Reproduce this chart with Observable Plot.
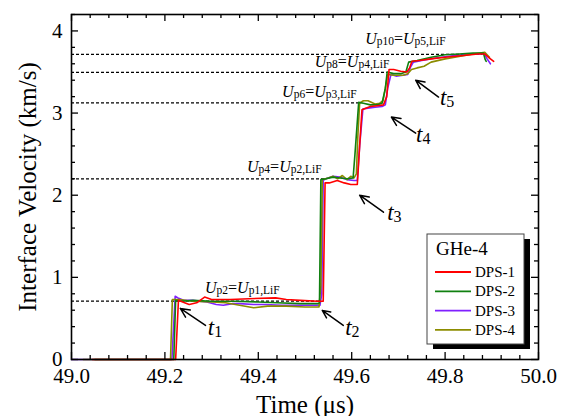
<!DOCTYPE html>
<html>
<head>
<meta charset="utf-8">
<script src="https://cdn.jsdelivr.net/npm/d3@7"></script>
<script src="https://cdn.jsdelivr.net/npm/@observablehq/plot@0.6"></script>
<style>
  html, body { margin: 0; padding: 0; background: #fff; }
  #chart svg, #chart svg text { font-family: "Liberation Serif", "Times New Roman", serif !important; }
  #chart svg { overflow: visible; }
</style>
</head>
<body>
<div id="chart"></div>
<script>
// ---- Data ----
const seriesNames = ["DPS-1", "DPS-2", "DPS-3", "DPS-4"];
const seriesColors = ["#ff0000", "#108010", "#8020ff", "#8c8c00"];

const dps1_t = [49.045,49.223,49.229,49.238,49.252,49.268,49.285,49.30,49.34,49.38,49.437,49.46,49.49,49.527,49.539,49.543,49.552,49.569,49.584,49.598,49.612,49.617,49.622,49.63,49.64,49.655,49.668,49.675,49.680,49.69,49.705,49.718,49.724,49.729,49.745,49.77,49.80,49.84,49.87,49.885,49.895,49.904];
const dps1_v = [0,0,0.72,0.70,0.67,0.69,0.76,0.73,0.73,0.74,0.75,0.73,0.72,0.71,0.71,2.15,2.15,2.18,2.15,2.13,2.13,2.6,3.04,3.06,3.08,3.09,3.10,3.2,3.53,3.53,3.51,3.50,3.55,3.63,3.64,3.66,3.68,3.70,3.72,3.72,3.67,3.63];

const dps2_t = [49.05,49.219,49.223,49.235,49.26,49.30,49.35,49.40,49.44,49.49,49.528,49.531,49.534,49.545,49.56,49.575,49.59,49.603,49.607,49.615,49.625,49.64,49.655,49.665,49.672,49.676,49.69,49.705,49.716,49.722,49.74,49.77,49.80,49.83,49.86,49.882,49.886,49.888];
const dps2_v = [0,0,0.72,0.71,0.72,0.71,0.71,0.70,0.69,0.68,0.68,0.69,2.19,2.20,2.22,2.21,2.20,2.21,2.5,3.13,3.12,3.10,3.10,3.12,3.3,3.50,3.48,3.48,3.50,3.62,3.64,3.68,3.71,3.72,3.73,3.73,3.65,3.63];

const dps3_t = [49.0,49.215,49.222,49.228,49.24,49.26,49.29,49.31,49.325,49.345,49.36,49.39,49.415,49.45,49.49,49.532,49.536,49.539,49.545,49.56,49.575,49.59,49.605,49.612,49.617,49.624,49.635,49.65,49.665,49.672,49.677,49.684,49.695,49.71,49.72,49.726,49.732,49.75,49.78,49.82,49.86,49.884,49.89,49.897];
const dps3_v = [0,0,0.77,0.75,0.72,0.72,0.70,0.67,0.66,0.68,0.68,0.67,0.67,0.66,0.66,0.66,0.8,2.18,2.20,2.23,2.22,2.19,2.18,2.18,2.6,3.05,3.06,3.07,3.08,3.10,3.3,3.47,3.45,3.46,3.47,3.56,3.62,3.64,3.67,3.70,3.72,3.72,3.66,3.60];

const dps4_t = [49.025,49.212,49.216,49.23,49.26,49.30,49.33,49.36,49.39,49.42,49.46,49.50,49.53,49.534,49.537,49.55,49.56,49.57,49.58,49.59,49.598,49.605,49.61,49.613,49.617,49.625,49.635,49.65,49.66,49.667,49.672,49.677,49.69,49.71,49.72,49.728,49.74,49.755,49.77,49.80,49.83,49.86,49.885,49.89,49.895];
const dps4_v = [0,0,0.73,0.73,0.71,0.70,0.69,0.66,0.63,0.65,0.65,0.64,0.64,0.9,2.19,2.21,2.23,2.20,2.24,2.19,2.23,2.21,2.26,2.7,3.12,3.15,3.15,3.11,3.12,3.15,3.3,3.47,3.46,3.46,3.48,3.53,3.55,3.57,3.62,3.66,3.69,3.72,3.74,3.71,3.68];

// Reference (dashed) levels: value and end time
const refLevels = [0.71, 2.20, 3.125, 3.495, 3.715];
const refEnds   = [49.535, 49.545, 49.62, 49.68, 49.88];
// Level labels: main symbol subscripts
const refSubA = ["p2", "p4", "p6", "p8", "p10"];
const refSubB = ["p1,LiF", "p2,LiF", "p3,LiF", "p4,LiF", "p5,LiF"];
const refLabelX = [49.287, 49.377, 49.452, 49.522, 49.630];
const refLabelY = [0.805, 2.28, 3.195, 3.549, 3.83];

// Time markers t1..t5: label position, arrow tail and head
const tSubs   = ["1", "2", "3", "4", "5"];
const tLabelX = [49.293, 49.587, 49.677, 49.739, 49.790];
const tLabelY = [0.293, 0.293, 1.695, 2.646, 3.098];
const tArrowX1 = [49.287, 49.582, 49.668, 49.737, 49.786];
const tArrowY1 = [0.415, 0.415, 1.793, 2.756, 3.195];
const tArrowX2 = [49.233, 49.537, 49.617, 49.685, 49.737];
const tArrowY2 = [0.622, 0.598, 2.00, 2.951, 3.40];

const xTicks = [49.0, 49.2, 49.4, 49.6, 49.8, 50.0];
const yTicks = [0, 1, 2, 3, 4];
const xMinor = d3.range(0, 26).map(i => 49 + i * 0.04).filter(v => !xTicks.some(t => Math.abs(t - v) < 1e-9));
const yMinor = d3.range(0, 22).map(i => i * 0.2).filter(v => !yTicks.some(t => Math.abs(t - v) < 1e-9));

// ---- Build tables ----
const raw = [[dps1_t, dps1_v], [dps2_t, dps2_v], [dps3_t, dps3_v], [dps4_t, dps4_v]];
const lines = raw.map(([ts, vs], i) => ts.map((t, j) => ({t, v: vs[j], s: seriesNames[i]})));
const drawOrder = [2, 3, 1, 0];
const refs = refLevels.map((v, i) => ({v, end: refEnds[i]}));
const arrows = tSubs.map((s, i) => ({x1: tArrowX1[i], y1: tArrowY1[i], x2: tArrowX2[i], y2: tArrowY2[i]}));

const X0 = 49, X1 = 50, Y0 = 0, Y1 = 4.2;
const W = 567, H = 416, mL = 71, mR = 29, mT = 14, mB = 57;
const pxX = (X1 - X0) / (W - mL - mR);
const pxY = (Y1 - Y0) / (H - mT - mB);
const FONT = "Liberation Serif";

const marks = [];
marks.push(Plot.ruleY(refs, {y: "v", x1: X0, x2: "end", stroke: "black", strokeWidth: 1.2, strokeDasharray: "3,2"}));
for (const i of drawOrder) {
  marks.push(Plot.line(lines[i], {x: "t", y: "v", stroke: seriesColors[i], strokeWidth: 1.6, strokeLinejoin: "round"}));
}
marks.push(Plot.arrow(arrows, {x1: "x1", y1: "y1", x2: "x2", y2: "y2", stroke: "black", strokeWidth: 1.5, headLength: 11, headAngle: 50}));
const majX = 7 * pxY, minX = 4 * pxY, majY = 7 * pxX, minY = 4 * pxX;
marks.push(Plot.ruleX(xTicks, {x: d => d, y1: Y0, y2: Y0 + majX, stroke: "black", strokeWidth: 1.3}));
marks.push(Plot.ruleX(xMinor, {x: d => d, y1: Y0, y2: Y0 + minX, stroke: "black", strokeWidth: 1.3}));
marks.push(Plot.ruleX(xTicks, {x: d => d, y1: Y1, y2: Y1 - majX, stroke: "black", strokeWidth: 1.3}));
marks.push(Plot.ruleX(xMinor, {x: d => d, y1: Y1, y2: Y1 - minX, stroke: "black", strokeWidth: 1.3}));
marks.push(Plot.ruleY(yTicks, {y: d => d, x1: X0, x2: X0 + majY, stroke: "black", strokeWidth: 1.3}));
marks.push(Plot.ruleY(yMinor, {y: d => d, x1: X0, x2: X0 + minY, stroke: "black", strokeWidth: 1.3}));
marks.push(Plot.ruleY(yTicks, {y: d => d, x1: X1, x2: X1 - majY, stroke: "black", strokeWidth: 1.3}));
marks.push(Plot.ruleY(yMinor, {y: d => d, x1: X1, x2: X1 - minY, stroke: "black", strokeWidth: 1.3}));
marks.push(Plot.axisX(xTicks, {tickSize: 0, tickPadding: 9, fontSize: 21, fontFamily: FONT, tickFormat: d => d.toFixed(1), label: null, fill: "black"}));
marks.push(Plot.axisY(yTicks, {tickSize: 0, tickPadding: 9, fontSize: 21, fontFamily: FONT, tickFormat: d => String(d), label: null, fill: "black"}));
marks.push(Plot.frame({stroke: "black", strokeWidth: 1.6}));
marks.push(Plot.text(["Time (μs)"], {frameAnchor: "bottom", dy: 45, fontSize: 25, fontFamily: FONT, fill: "black", lineAnchor: "middle", textAnchor: "middle"}));
marks.push(Plot.text(["Interface Velocity (km/s)"], {frameAnchor: "left", dx: -44, rotate: -90, fontSize: 25, fontFamily: FONT, fill: "black", lineAnchor: "middle", textAnchor: "middle"}));

const plot = Plot.plot({
  width: W, height: H,
  marginLeft: mL, marginRight: mR, marginTop: mT, marginBottom: mB,
  x: {domain: [X0, X1]},
  y: {domain: [Y0, Y1]},
  style: {fontFamily: FONT, background: "white", color: "black"},
  marks
});
document.getElementById("chart").appendChild(plot);

// ---- Annotations with subscripts (positions through the plot's scales) ----
const svg = d3.select(plot);
const sx = plot.scale("x"), sy = plot.scale("y");
const g = svg.append("g").attr("font-family", FONT).attr("fill", "black").attr("text-anchor", "start");

refLevels.forEach((v, i) => {
  const t = g.append("text").attr("x", sx.apply(refLabelX[i])).attr("y", sy.apply(refLabelY[i])).attr("font-size", 16);
  t.append("tspan").attr("font-style", "italic").text("U");
  t.append("tspan").attr("font-size", 11.5).attr("dy", 1).text(refSubA[i]);
  t.append("tspan").attr("dy", -1).text("=");
  t.append("tspan").attr("font-style", "italic").text("U");
  t.append("tspan").attr("font-size", 11.5).attr("dy", 1).text(refSubB[i]);
});

tSubs.forEach((s, i) => {
  const t = g.append("text").attr("x", sx.apply(tLabelX[i])).attr("y", sy.apply(tLabelY[i])).attr("font-size", 23);
  t.append("tspan").attr("font-style", "italic").text("t");
  t.append("tspan").attr("font-size", 16).attr("dy", 2).text(s);
});

// ---- Legend ----
const lg = svg.append("g").attr("font-family", FONT).attr("text-anchor", "start");
const bx = 427, by = 234, bw = 97, bh = 110;
lg.append("rect").attr("x", bx + 6).attr("y", by + 5).attr("width", bw).attr("height", bh).attr("fill", "black");
lg.append("rect").attr("x", bx).attr("y", by).attr("width", bw).attr("height", bh).attr("fill", "white").attr("stroke", "#444").attr("stroke-width", 1);
lg.append("text").attr("x", bx + 9).attr("y", by + 21).attr("font-size", 19).attr("fill", "black").text("GHe-4");
seriesNames.forEach((name, i) => {
  const yy = by + 38 + i * 19.3;
  lg.append("line").attr("x1", bx + 8).attr("x2", bx + 44).attr("y1", yy).attr("y2", yy).attr("stroke", seriesColors[i]).attr("stroke-width", 1.8);
  lg.append("text").attr("x", bx + 48).attr("y", yy + 5).attr("font-size", 15).attr("fill", "black").text(name);
});
</script>
</body>
</html>
